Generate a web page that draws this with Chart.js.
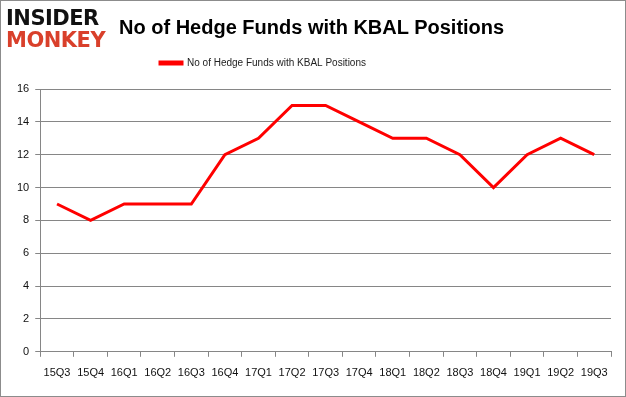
<!DOCTYPE html>
<html>
<head>
<meta charset="utf-8">
<script src="https://cdn.jsdelivr.net/npm/chart.js@4"></script>
<style>
  body { margin: 0; background: #fff; }
  #wrap { position: relative; width: 624px; height: 395px; border: 1px solid #8c8c8c; background: #fff; }
  #logo { position: absolute; left: 5px; top: 6px; font-family: "DejaVu Sans", sans-serif; font-weight: bold; line-height: 22px; letter-spacing: -0.5px; }
  #logo .a { color: #111; font-size: 21px; }
  #logo .b { color: #d9402b; font-size: 21px; }
  #title { position: absolute; left: 118px; top: 15px; font-family: "Liberation Sans", sans-serif; font-weight: bold; font-size: 20px; color: #000; }
  canvas { position: absolute; left: 0; top: 0; }
</style>
</head>
<body>
<div id="wrap">
  <canvas id="myChart" width="624" height="395"></canvas>
  <div id="logo"><div class="a">INSIDER</div><div class="b">MONKEY</div></div>
  <div id="title">No of Hedge Funds with KBAL Positions</div>
</div>
<script>
const quarters = ['15Q3', '15Q4', '16Q1', '16Q2', '16Q3', '16Q4', '17Q1', '17Q2', '17Q3', '17Q4', '18Q1', '18Q2', '18Q3', '18Q4', '19Q1', '19Q2', '19Q3'];
const funds = [9, 8, 9, 9, 9, 12, 13, 15, 15, 14, 13, 13, 12, 10, 12, 13, 12];
const seriesLabel = 'No of Hedge Funds with KBAL Positions';

const ctx = document.getElementById('myChart').getContext('2d');

// more room under the legend, and legend sits a little left of centre
const legendTweak = {
    id: 'legendTweak',
    beforeInit(chart) {
        const fit = chart.legend.fit;
        chart.legend.fit = function () {
            fit.bind(chart.legend)();
            this.height += 11;
        };
    },
    afterLayout(chart) {
        chart.legend.left -= 48;
        chart.legend.right -= 48;
    }
};

new Chart(ctx, {
    type: 'line',
    data: {
        labels: quarters,
        datasets: [{
            label: seriesLabel,
            data: funds,
            borderColor: '#ff0000',
            backgroundColor: '#ff0000',
            borderWidth: 3,
            pointRadius: 0,
            tension: 0,
            fill: false
        }]
    },
    options: {
        responsive: false,
        animation: false,
        layout: { padding: { top: 47, left: 10, right: 14, bottom: 6 } },
        plugins: {
            legend: {
                display: true,
                position: 'top',
                labels: {
                    boxWidth: 22,
                    boxHeight: 2,
                    color: '#222',
                    font: { family: 'Liberation Sans', size: 10 }
                }
            },
            tooltip: { enabled: false }
        },
        scales: {
            x: {
                offset: true,
                grid: { offset: true, drawOnChartArea: false, drawTicks: true, tickLength: 5, color: '#868686' },
                border: { color: '#868686' },
                ticks: { color: '#111', font: { family: 'Liberation Sans', size: 11 }, maxRotation: 0, autoSkip: false, padding: 10 }
            },
            y: {
                min: 0,
                max: 16,
                grid: { color: '#868686', tickLength: 5 },
                border: { color: '#868686' },
                ticks: { stepSize: 2, color: '#111', font: { family: 'Liberation Sans', size: 11 }, padding: 6 }
            }
        }
    },
    plugins: [legendTweak]
});
</script>
</body>
</html>
